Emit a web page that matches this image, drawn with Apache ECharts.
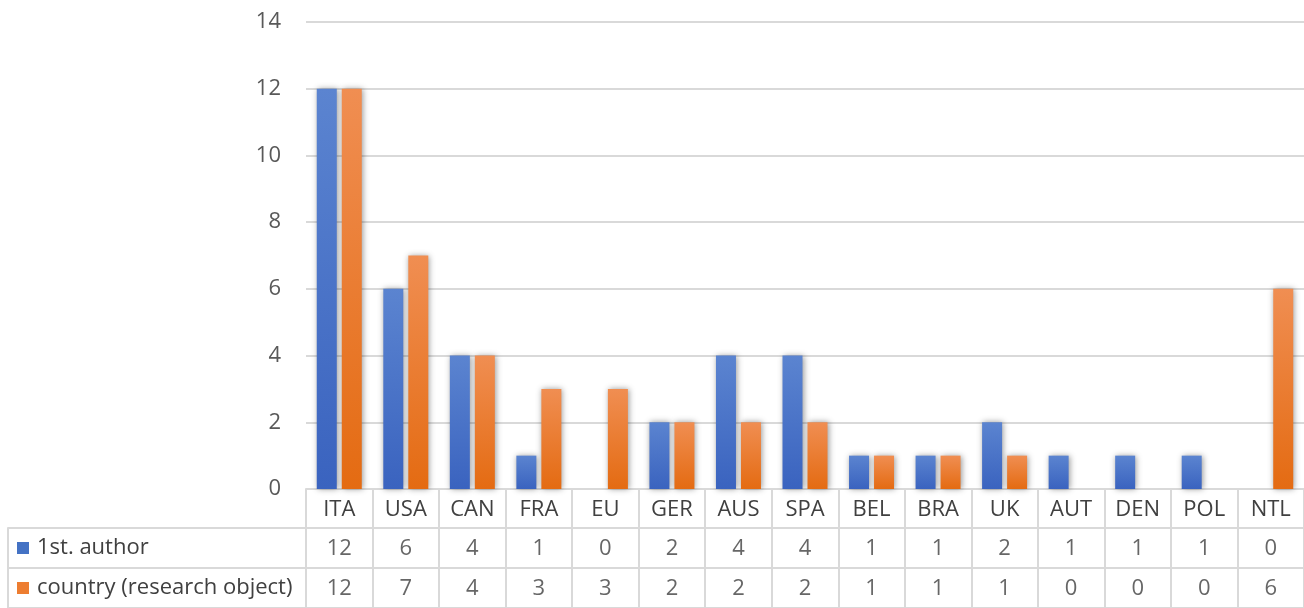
<!DOCTYPE html>
<html>
<head>
<meta charset="utf-8">
<script src="https://cdn.jsdelivr.net/npm/echarts@6/dist/echarts.min.js"></script>
<style>
html,body{margin:0;padding:0;background:#fff;}
#c{width:1304px;height:608px;}
</style>
</head>
<body>
<div id="c"></div>
<script>
const categories = ['ITA','USA','CAN','FRA','EU','GER','AUS','SPA','BEL','BRA','UK','AUT','DEN','POL','NTL'];
const firstAuthor = [12,6,4,1,0,2,4,4,1,1,2,1,1,1,0];
const countryObj = [12,7,4,3,3,2,2,2,1,1,1,0,0,0,6];
const seriesNames = ['1st. author','country (research object)'];
const yTicks = {min:0, max:14, interval:2};

const FONT = 'Open Sans';
const FS = 22;
const GRID_LINE = '#d9d9d9';
const BLUE = new echarts.graphic.LinearGradient(0,0,0,1,[{offset:0,color:'#5b84d0'},{offset:1,color:'#3a63bf'}]);
const ORANGE = new echarts.graphic.LinearGradient(0,0,0,1,[{offset:0,color:'#f08e52'},{offset:1,color:'#e46b12'}]);
const legendColors = ['#4472c4','#ed7d31'];

const cellData = [];
firstAuthor.forEach((v,i)=>cellData.push([i,0,v]));
countryObj.forEach((v,i)=>cellData.push([i,1,v]));

const chart = echarts.init(document.getElementById('c'));
chart.setOption({
  animation:false,
  backgroundColor:'#fff',
  textStyle:{fontFamily:FONT},
  grid:[
    {left:306,right:0,top:22,bottom:119},
    {left:306,right:0,top:528,bottom:0}
  ],
  xAxis:[
    {type:'category',gridIndex:0,data:categories,
     axisLine:{show:true,lineStyle:{color:GRID_LINE,width:2}},
     axisTick:{show:true,length:39,lineStyle:{color:GRID_LINE,width:2}},
     axisLabel:{color:'#404040',fontSize:FS,fontFamily:FONT,margin:10},
     splitLine:{show:false}},
    {type:'category',gridIndex:1,data:categories,
     axisLine:{show:false},axisTick:{show:false},axisLabel:{show:false},
     splitLine:{show:true,interval:0,lineStyle:{color:GRID_LINE,width:2}}}
  ],
  yAxis:[
    {type:'value',gridIndex:0,min:yTicks.min,max:yTicks.max,interval:yTicks.interval,
     axisLine:{show:false},axisTick:{show:false},
     axisLabel:{color:'#595959',fontSize:FS,fontFamily:FONT,margin:25},
     splitLine:{show:true,lineStyle:{color:GRID_LINE,width:2}}},
    {type:'category',gridIndex:1,data:seriesNames,inverse:true,offset:298,
     axisLine:{show:true,lineStyle:{color:GRID_LINE,width:2}},
     axisTick:{show:true,inside:true,length:298,lineStyle:{color:GRID_LINE,width:2}},
     axisLabel:{inside:true,margin:9,fontSize:FS,fontFamily:FONT,color:'#404040',
       formatter:function(v,i){return '{b'+i+'|}{t|'+v+'}';},
       rich:{
         b0:{width:12,height:12,backgroundColor:legendColors[0]},
         b1:{width:12,height:12,backgroundColor:legendColors[1]},
         t:{fontSize:FS,fontFamily:FONT,color:'#404040',padding:[0,0,0,8]}
       }},
     splitLine:{show:true,lineStyle:{color:GRID_LINE,width:2}}}
  ],
  series:[
    {name:seriesNames[0],type:'bar',xAxisIndex:0,yAxisIndex:0,data:firstAuthor,
     barWidth:20,barGap:'25%',
     itemStyle:{color:BLUE,shadowBlur:6,shadowColor:'rgba(0,0,0,0.4)',shadowOffsetX:1,shadowOffsetY:0}},
    {name:seriesNames[1],type:'bar',xAxisIndex:0,yAxisIndex:0,data:countryObj,
     barWidth:20,barGap:'25%',
     itemStyle:{color:ORANGE,shadowBlur:6,shadowColor:'rgba(0,0,0,0.4)',shadowOffsetX:1,shadowOffsetY:0}},
    {type:'scatter',xAxisIndex:1,yAxisIndex:1,data:cellData,symbolSize:0,
     itemStyle:{color:'transparent'},silent:true,
     label:{show:true,position:'inside',offset:[0,1],formatter:function(p){return String(p.value[2]);},
       color:'#404040',fontSize:FS,fontFamily:FONT}}
  ]
});
</script>
</body>
</html>
